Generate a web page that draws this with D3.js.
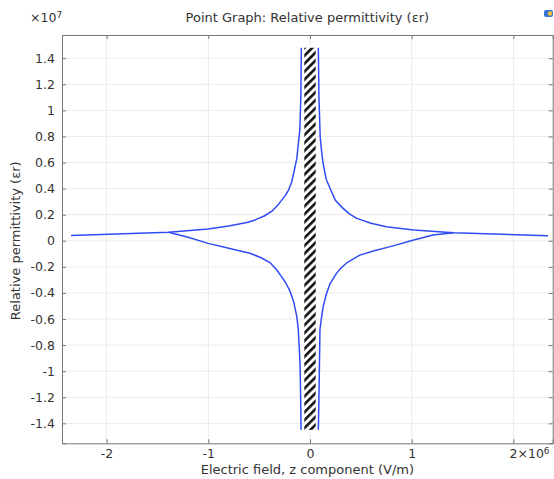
<!DOCTYPE html>
<html lang="en">
  <head>
    <meta charset="UTF-8" />
    <title>Point Graph: Relative permittivity</title>
    <style>
      body { margin: 0; background: #fff; }
      text { font-family: "DejaVu Sans", sans-serif; fill: #333; }
    </style>
  </head>
  <body>
    <div id="wrapper"></div>
    <script src="https://d3js.org/d3.v7.min.js"></script>
    <script>
      // electric field (V/m) and relative permittivity
      var upperLeftE   = [-2.35e6, -1.39e6, -1.0e6, -0.80e6, -0.62e6, -0.54e6, -0.45e6, -0.37e6, -0.32e6, -0.28e6, -0.24e6, -0.21e6, -0.18e6, -0.16e6, -0.13e6, -0.10e6, -0.09e6, -0.085e6];
      var upperLeftEps = [0.04e7, 0.065e7, 0.09e7, 0.113e7, 0.14e7, 0.16e7, 0.19e7, 0.23e7, 0.27e7, 0.31e7, 0.35e7, 0.39e7, 0.45e7, 0.52e7, 0.63e7, 0.85e7, 1.1e7, 1.48e7];

      var lowerLeftE   = [-1.39e6, -1.2e6, -1.0e6, -0.80e6, -0.59e6, -0.48e6, -0.39e6, -0.33e6, -0.28e6, -0.24e6, -0.20e6, -0.16e6, -0.13e6, -0.115e6, -0.098e6, -0.092e6, -0.088e6];
      var lowerLeftEps = [0.065e7, 0.027e7, -0.02e7, -0.058e7, -0.096e7, -0.13e7, -0.17e7, -0.22e7, -0.275e7, -0.32e7, -0.38e7, -0.47e7, -0.58e7, -0.68e7, -0.94e7, -1.2e7, -1.45e7];

      var upperRightE   = [0.082e6, 0.088e6, 0.10e6, 0.115e6, 0.13e6, 0.16e6, 0.21e6, 0.25e6, 0.31e6, 0.38e6, 0.46e6, 0.60e6, 0.75e6, 1.02e6, 1.41e6, 2.34e6];
      var upperRightEps = [1.48e7, 1.1e7, 0.80e7, 0.68e7, 0.59e7, 0.47e7, 0.38e7, 0.31e7, 0.26e7, 0.21e7, 0.172e7, 0.135e7, 0.108e7, 0.083e7, 0.062e7, 0.039e7];

      var lowerRightE   = [0.082e6, 0.088e6, 0.098e6, 0.115e6, 0.13e6, 0.16e6, 0.197e6, 0.26e6, 0.31e6, 0.36e6, 0.49e6, 0.64e6, 0.79e6, 1.02e6, 1.21e6, 1.41e6];
      var lowerRightEps = [-1.45e7, -1.2e7, -0.68e7, -0.58e7, -0.505e7, -0.41e7, -0.33e7, -0.25e7, -0.205e7, -0.17e7, -0.11e7, -0.075e7, -0.045e7, 0.006e7, 0.045e7, 0.062e7];

      // hatched region around E = 0
      var hatchE = [-0.056e6, 0.056e6];
      var hatchEps = [-1.45e7, 1.48e7];

      var xTicks = [-2e6, -1e6, 0, 1e6, 2e6];
      var yTicks = [-1.4e7, -1.2e7, -1e7, -0.8e7, -0.6e7, -0.4e7, -0.2e7, 0, 0.2e7, 0.4e7, 0.6e7, 0.8e7, 1e7, 1.2e7, 1.4e7];

      var title = "Point Graph: Relative permittivity (\u03b5r)";
      var xLabel = "Electric field, z component (V/m)";
      var yLabel = "Relative permittivity (\u03b5r)";

      var W = 554, H = 479;
      var margin = {top: 35, right: 1.3, bottom: 35.7, left: 62};
      var width = W - margin.left - margin.right,
          height = H - margin.top - margin.bottom;

      var x = d3.scaleLinear().domain([-2.4385e6, 2.3865e6]).range([0, width]);
      var y = d3.scaleLinear().domain([-1.553e7, 1.578e7]).range([height, 0]);

      var svg = d3.select("#wrapper").append("svg")
          .attr("width", W)
          .attr("height", H);

      var defs = svg.append("defs");
      var pat = defs.append("pattern")
          .attr("id", "hatch")
          .attr("patternUnits", "userSpaceOnUse")
          .attr("width", 5.6)
          .attr("height", 5.6)
          .attr("patternTransform", "rotate(45)");
      pat.append("rect").attr("width", 5.6).attr("height", 5.6).attr("fill", "#fff");
      pat.append("rect").attr("x", 0).attr("width", 2.6).attr("height", 5.6).attr("fill", "#111");

      defs.append("clipPath").attr("id", "clip")
        .append("rect").attr("width", width).attr("height", height);

      var g = svg.append("g")
          .attr("transform", "translate(" + margin.left + "," + margin.top + ")");

      // grid
      g.append("g").selectAll("line").data(xTicks).enter().append("line")
          .attr("x1", function(d) { return x(d); })
          .attr("x2", function(d) { return x(d); })
          .attr("y1", 0).attr("y2", height)
          .attr("stroke", "#ebebeb");
      g.append("g").selectAll("line").data(yTicks).enter().append("line")
          .attr("y1", function(d) { return y(d); })
          .attr("y2", function(d) { return y(d); })
          .attr("x1", 0).attr("x2", width)
          .attr("stroke", "#ebebeb");

      // hatched region
      g.append("rect")
          .attr("x", x(hatchE[0]))
          .attr("width", x(hatchE[1]) - x(hatchE[0]))
          .attr("y", y(hatchEps[1]))
          .attr("height", y(hatchEps[0]) - y(hatchEps[1]))
          .attr("fill", "url(#hatch)");

      // curves
      var line = d3.line()
          .x(function(d) { return x(d[0]); })
          .y(function(d) { return y(d[1]); });

      var series = [
        [upperLeftE, upperLeftEps],
        [lowerLeftE, lowerLeftEps],
        [upperRightE, upperRightEps],
        [lowerRightE, lowerRightEps]
      ];
      series.forEach(function(s) {
        g.append("path")
            .datum(d3.zip(s[0], s[1]))
            .attr("clip-path", "url(#clip)")
            .attr("fill", "none")
            .attr("stroke", "#2f4cf5")
            .attr("stroke-width", 1.5)
            .attr("stroke-linejoin", "round")
            .attr("d", line);
      });

      // axes with inward ticks
      var fmtX = function(d) { return String(+(d / 1e6).toFixed(1)); };
      var fmtY = function(d) { return String(+(d / 1e7).toFixed(1)); };

      var xAxis = g.append("g")
          .attr("transform", "translate(0," + height + ")")
          .call(d3.axisBottom(x).tickValues(xTicks).tickSize(-4).tickPadding(6).tickFormat(fmtX));
      var yAxis = g.append("g")
          .call(d3.axisLeft(y).tickValues(yTicks).tickSize(-4).tickPadding(7).tickFormat(fmtY));
      g.append("g")
          .call(d3.axisTop(x).tickValues(xTicks).tickSize(-4).tickFormat(""));
      g.append("g")
          .attr("transform", "translate(" + width + ",0)")
          .call(d3.axisRight(y).tickValues(yTicks).tickSize(-4).tickFormat(""));

      g.selectAll(".domain").attr("stroke", "#777");
      g.selectAll(".tick line").attr("stroke", "#777");
      g.selectAll(".tick text").attr("font-size", 12.5).attr("fill", "#333")
          .style("font-family", "DejaVu Sans, sans-serif");

      // exponent on the last x tick label
      xAxis.selectAll(".tick text")
          .filter(function(d) { return d === xTicks[xTicks.length - 1]; })
          .attr("text-anchor", "start")
          .attr("dx", "-0.35em")
          .text(null)
          .call(function(t) {
            t.append("tspan").text("2\u00d710");
            t.append("tspan").attr("dy", "-0.45em").attr("font-size", 9).text("6");
          });

      // y multiplier
      var mult = svg.append("text")
          .attr("x", 30).attr("y", 22)
          .attr("font-size", 12.5);
      mult.append("tspan").text("\u00d710");
      mult.append("tspan").attr("dy", "-0.45em").attr("font-size", 9).text("7");

      // title and labels
      svg.append("text")
          .attr("x", margin.left + width / 2).attr("y", 22)
          .attr("text-anchor", "middle")
          .attr("font-size", 13)
          .text(title);

      svg.append("text")
          .attr("x", margin.left + width / 2).attr("y", 474)
          .attr("text-anchor", "middle")
          .attr("font-size", 13)
          .text(xLabel);

      svg.append("text")
          .attr("transform", "translate(20," + (margin.top + y(0)) + ") rotate(-90)")
          .attr("text-anchor", "middle")
          .attr("font-size", 13)
          .text(yLabel);

      // small toolbar icon at the top right
      svg.append("rect")
          .attr("x", 544).attr("y", 10).attr("width", 9).attr("height", 7).attr("rx", 2)
          .attr("fill", "#3b72d9");
      svg.append("circle")
          .attr("cx", 550).attr("cy", 13.5).attr("r", 2.2)
          .attr("fill", "#f2c12e");
    </script>
  </body>
</html>
